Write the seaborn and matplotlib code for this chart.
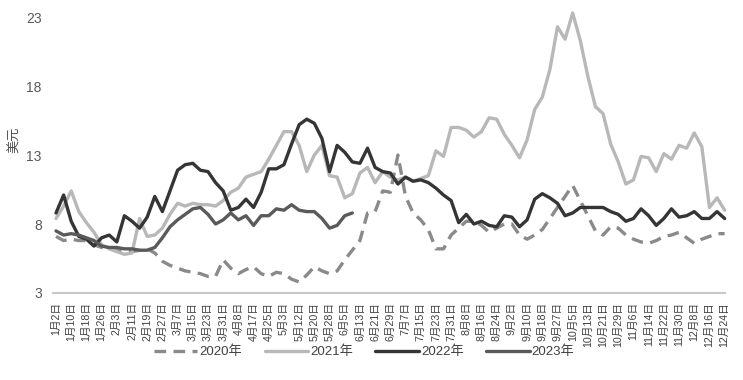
import numpy as np
import pandas as pd
import matplotlib
matplotlib.use("Agg")
import matplotlib.pyplot as plt
import seaborn as sns

# tick labels (category axis, one label every 8 days or so)
date_labels = ["1月2日", "1月10日", "1月18日", "1月26日", "2月3日", "2月11日", "2月19日", "2月27日",
               "3月7日", "3月15日", "3月23日", "3月31日", "4月8日", "4月17日", "4月25日", "5月3日",
               "5月12日", "5月20日", "5月28日", "6月5日", "6月13日", "6月21日", "6月29日", "7月7日",
               "7月15日", "7月23日", "7月31日", "8月8日", "8月16日", "8月24日", "9月2日", "9月10日",
               "9月18日", "9月27日", "10月5日", "10月13日", "10月21日", "10月29日", "11月6日", "11月14日",
               "11月22日", "11月30日", "12月8日", "12月16日", "12月24日"]

# values, two per label step
y2020 = [7.1, 6.8, 6.9, 6.8, 6.8, 6.5, 6.3, 6.2, 6.1, 6.0, 6.0, 6.1, 6.2, 5.9, 5.3, 5.0, 4.8, 4.6,
         4.5, 4.4, 4.2, 4.2, 5.4, 4.8, 4.4, 4.7, 4.9, 4.4, 4.2, 4.5, 4.4, 4.0, 3.8, 4.3, 4.9, 4.6,
         4.4, 4.6, 5.4, 6.1, 6.8, 8.8, 8.9, 10.4, 10.3, 13.0, 10.0, 8.8, 8.3, 7.6, 6.2, 6.2, 7.2, 7.7,
         8.2, 8.2, 7.9, 7.4, 7.7, 8.0, 8.0, 7.2, 6.9, 7.2, 7.6, 8.4, 9.2, 10.0, 10.8, 9.7, 8.6, 7.5,
         7.2, 7.8, 7.7, 7.2, 6.9, 6.7, 6.6, 6.8, 7.1, 7.2, 7.4, 7.0, 6.6, 6.9, 7.1, 7.3, 7.3]
y2021 = [8.4, 9.3, 10.4, 8.9, 8.1, 7.4, 6.5, 6.2, 6.0, 5.8, 5.9, 8.4, 7.1, 7.2, 7.7, 8.7, 9.5, 9.3,
         9.5, 9.4, 9.4, 9.3, 9.7, 10.3, 10.6, 11.4, 11.6, 11.8, 12.7, 13.7, 14.7, 14.7, 13.7, 11.8,
         13.0, 13.7, 11.5, 11.4, 9.9, 10.2, 11.7, 12.1, 11.0, 11.8, 11.4, 11.2, 11.4, 11.1, 11.3,
         11.5, 13.3, 12.9, 15.0, 15.0, 14.8, 14.3, 14.7, 15.7, 15.6, 14.5, 13.7, 12.8, 14.1, 16.3,
         17.2, 19.2, 22.3, 21.4, 23.3, 21.3, 18.7, 16.5, 16.0, 13.8, 12.5, 10.9, 11.2, 12.9, 12.8,
         11.8, 13.1, 12.7, 13.7, 13.5, 14.6, 13.6, 9.2, 9.9, 9.0]
y2022 = [8.8, 10.1, 8.2, 7.1, 6.9, 6.4, 7.0, 7.2, 6.7, 8.6, 8.2, 7.7, 8.5, 10.0, 8.9, 10.4, 11.9,
         12.3, 12.4, 11.9, 11.8, 11.0, 10.4, 9.0, 9.2, 9.8, 9.2, 10.3, 12.0, 12.0, 12.3, 13.8, 15.2,
         15.6, 15.3, 14.2, 11.8, 13.7, 13.2, 12.5, 12.4, 13.5, 12.1, 11.8, 11.7, 10.9, 11.4, 11.1,
         11.2, 11.0, 10.6, 10.1, 9.7, 8.1, 8.7, 8.0, 8.2, 7.9, 7.8, 8.6, 8.5, 7.8, 8.3, 9.8, 10.2,
         9.9, 9.5, 8.6, 8.8, 9.2, 9.2, 9.2, 9.2, 8.9, 8.7, 8.2, 8.4, 9.1, 8.6, 7.9, 8.4, 9.1, 8.5,
         8.6, 8.9, 8.4, 8.4, 8.9, 8.4]
y2023 = [7.5, 7.2, 7.3, 7.2, 7.0, 6.8, 6.4, 6.3, 6.3, 6.2, 6.2, 6.1, 6.1, 6.3, 7.0, 7.8, 8.3, 8.7,
         9.1, 9.2, 8.7, 8.0, 8.3, 8.8, 8.3, 8.6, 7.9, 8.6, 8.6, 9.1, 9.0, 9.4, 9.0, 8.9, 8.9, 8.4,
         7.7, 7.9, 8.6, 8.8]

series = {"2020年": y2020, "2021年": y2021, "2022年": y2022, "2023年": y2023}
frames = []
for name, vals in series.items():
    frames.append(pd.DataFrame({"t": np.arange(len(vals)) / 2, "v": vals, "year": name}))
df = pd.concat(frames, ignore_index=True)

sns.set_style("white")
plt.rcParams["font.family"] = ["Liberation Sans", "Noto Sans CJK SC"]

fig = plt.figure(figsize=(7.43, 3.80), dpi=100)
ax = fig.add_axes([0.0713, 0.229, 0.905, 0.726])

palette = {"2020年": "#8a8a8a", "2021年": "#b8b8b8", "2022年": "#353535", "2023年": "#5a5a5a"}
dashes = {"2020年": (3.5, 2.2), "2021年": "", "2022年": "", "2023年": ""}
sns.lineplot(data=df, x="t", y="v", hue="year", style="year", palette=palette, dashes=dashes,
             linewidth=2.4, estimator=None, ax=ax, clip_on=False)

ax.set_xlim(-0.2, 44.05)
ax.set_ylim(3, 23)
ax.set_yticks([3, 8, 13, 18, 23])
ax.set_xticks(range(len(date_labels)))
ax.set_xticklabels(date_labels, rotation=90, fontsize=7.7, color="#404040")
ax.tick_params(axis="x", length=0, pad=6.5)
ax.tick_params(axis="y", length=0, pad=8, labelsize=10, labelcolor="#595959")
ax.set_xlabel("")
ax.set_ylabel("美元", fontsize=9.5, color="#505050", labelpad=0)
ax.yaxis.set_label_coords(-0.047, 0.554)

for s in ["top", "right", "left"]:
    ax.spines[s].set_visible(False)
ax.spines["bottom"].set_color("#c8c8c8")
ax.spines["bottom"].set_linewidth(1.5)

handles, labels = ax.get_legend_handles_labels()
ax.get_legend().remove()
fig.legend(handles, labels, loc="center", bbox_to_anchor=(0.49, 0.074), ncol=4, frameon=False,
           fontsize=9.5, handlelength=3.3, handletextpad=0.15, columnspacing=1.7,
           labelcolor="#404040")

fig.savefig("out.png", dpi=100)
